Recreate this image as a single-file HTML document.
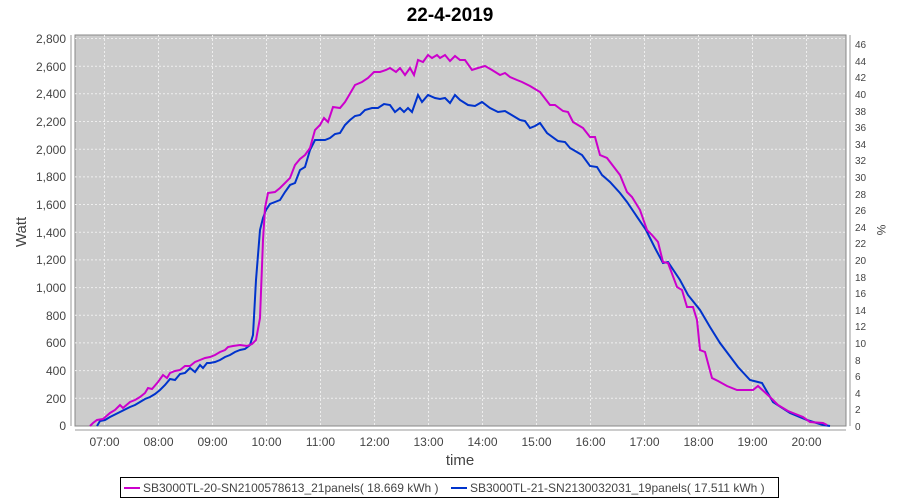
<!DOCTYPE html>
<html><head><meta charset="utf-8"><style>
body{margin:0;background:#fff;}
svg{display:block;font-family:"Liberation Sans","DejaVu Sans",sans-serif;}
</style></head><body>
<svg width="900" height="500" viewBox="0 0 900 500">
<rect width="900" height="500" fill="#fff"/>
<text x="450" y="21" text-anchor="middle" font-size="19" font-weight="bold" fill="#000">22-4-2019</text>
<rect x="75" y="35" width="771" height="391" fill="#cccccc" stroke="#888" stroke-width="1"/>
<g stroke="#eeeeee" stroke-width="1" stroke-dasharray="2,2">
<line x1="75" x2="846" y1="38.5" y2="38.5"/><line x1="75" x2="846" y1="66.2" y2="66.2"/><line x1="75" x2="846" y1="93.8" y2="93.8"/><line x1="75" x2="846" y1="121.5" y2="121.5"/><line x1="75" x2="846" y1="149.2" y2="149.2"/><line x1="75" x2="846" y1="176.9" y2="176.9"/><line x1="75" x2="846" y1="204.5" y2="204.5"/><line x1="75" x2="846" y1="232.2" y2="232.2"/><line x1="75" x2="846" y1="259.9" y2="259.9"/><line x1="75" x2="846" y1="287.6" y2="287.6"/><line x1="75" x2="846" y1="315.2" y2="315.2"/><line x1="75" x2="846" y1="342.9" y2="342.9"/><line x1="75" x2="846" y1="370.6" y2="370.6"/><line x1="75" x2="846" y1="398.3" y2="398.3"/>
<line y1="35" y2="426" x1="104.5" x2="104.5"/><line y1="35" y2="426" x1="158.5" x2="158.5"/><line y1="35" y2="426" x1="212.5" x2="212.5"/><line y1="35" y2="426" x1="266.5" x2="266.5"/><line y1="35" y2="426" x1="320.5" x2="320.5"/><line y1="35" y2="426" x1="374.5" x2="374.5"/><line y1="35" y2="426" x1="428.5" x2="428.5"/><line y1="35" y2="426" x1="482.5" x2="482.5"/><line y1="35" y2="426" x1="536.5" x2="536.5"/><line y1="35" y2="426" x1="590.5" x2="590.5"/><line y1="35" y2="426" x1="644.5" x2="644.5"/><line y1="35" y2="426" x1="698.5" x2="698.5"/><line y1="35" y2="426" x1="752.5" x2="752.5"/><line y1="35" y2="426" x1="806.5" x2="806.5"/>
</g>
<g stroke="#999" stroke-width="1"><line x1="71" x2="71" y1="35" y2="426"/><line x1="75" x2="846" y1="430" y2="430"/><line x1="850" x2="850" y1="35" y2="426"/></g>
<g font-size="12" fill="#444" text-anchor="end">
<text x="66" y="43">2,800</text><text x="66" y="71">2,600</text><text x="66" y="98">2,400</text><text x="66" y="126">2,200</text><text x="66" y="154">2,000</text><text x="66" y="181">1,800</text><text x="66" y="209">1,600</text><text x="66" y="237">1,400</text><text x="66" y="264">1,200</text><text x="66" y="292">1,000</text><text x="66" y="320">800</text><text x="66" y="347">600</text><text x="66" y="375">400</text><text x="66" y="403">200</text><text x="66" y="430">0</text>
</g>
<g font-size="10" fill="#444">
<text x="855" y="430">0</text><text x="855" y="413">2</text><text x="855" y="397">4</text><text x="855" y="380">6</text><text x="855" y="364">8</text><text x="855" y="347">10</text><text x="855" y="330">12</text><text x="855" y="314">14</text><text x="855" y="297">16</text><text x="855" y="281">18</text><text x="855" y="264">20</text><text x="855" y="247">22</text><text x="855" y="231">24</text><text x="855" y="214">26</text><text x="855" y="198">28</text><text x="855" y="181">30</text><text x="855" y="164">32</text><text x="855" y="148">34</text><text x="855" y="131">36</text><text x="855" y="115">38</text><text x="855" y="98">40</text><text x="855" y="81">42</text><text x="855" y="65">44</text><text x="855" y="48">46</text>
</g>
<g font-size="12" fill="#444" text-anchor="middle">
<text x="104.5" y="446">07:00</text><text x="158.5" y="446">08:00</text><text x="212.5" y="446">09:00</text><text x="266.5" y="446">10:00</text><text x="320.5" y="446">11:00</text><text x="374.5" y="446">12:00</text><text x="428.5" y="446">13:00</text><text x="482.5" y="446">14:00</text><text x="536.5" y="446">15:00</text><text x="590.5" y="446">16:00</text><text x="644.5" y="446">17:00</text><text x="698.5" y="446">18:00</text><text x="752.5" y="446">19:00</text><text x="806.5" y="446">20:00</text>
</g>
<text x="460" y="465" text-anchor="middle" font-size="15" fill="#444">time</text>
<text transform="translate(26,232) rotate(-90)" text-anchor="middle" font-size="15" fill="#444">Watt</text>
<text transform="translate(877,230) rotate(90)" text-anchor="middle" font-size="12" fill="#444">%</text>
<polyline fill="none" stroke="#0033cc" stroke-width="2" points="97,426 100,421 105,420 110,417 120,412 130,407 135,405 140,402 145,399 150,397 155,394 160,390 165,385 170,379 175,380 180,374 185,373 190,368 195,372 200,365 203,368 207,363 210,363 215,362 220,360 225,357 230,355 235,352 240,350 245,349 250,345 253,335 256,280 260,230 263,218 266,210 270,204 275,202 280,200 285,192 290,185 295,183 300,170 305,167 310,150 315,140 320,140 325,140 330,138 335,134 340,133 345,125 350,120 355,116 360,115 365,110 372,108 378,108 384,104 390,105 395,112 400,108 404,112 408,108 412,112 418,95 422,102 428,95 435,98 440,99 445,98 450,103 455,95 460,100 468,105 475,106 482,102 490,108 498,112 505,111 510,114 515,117 520,120 525,121 530,128 535,126 540,123 547,133 558,141 565,142 570,148 582,155 590,166 597,167 602,175 610,182 620,193 627,202 646,230 655,248 663,263 668,262 680,280 688,295 700,310 710,327 720,343 738,367 750,380 762,383 773,402 790,413 807,420 823,425 830,426"/>
<polyline fill="none" stroke="#cc00cc" stroke-width="2" points="90,426 93,423 97,420 103,419 110,413 115,410 120,405 123,408 130,402 135,400 140,397 145,393 148,388 152,389 158,382 163,375 167,378 170,373 175,371 180,370 185,366 190,366 195,362 200,360 205,358 210,357 215,355 220,352 225,350 228,347 233,346 240,345 247,346 252,344 256,340 260,318 263,240 265,208 268,193 275,192 280,188 285,183 290,178 295,165 300,159 305,155 310,148 315,130 320,125 324,118 328,122 333,107 340,108 345,102 348,97 355,85 362,82 368,78 374,72 380,72 386,70 390,68 396,72 400,68 405,75 410,68 414,75 418,60 423,62 428,55 432,58 437,55 440,58 445,55 450,61 455,56 460,60 465,60 472,70 478,68 485,66 492,70 500,75 505,73 510,77 517,80 522,82 530,86 540,92 550,105 555,105 563,111 568,112 573,122 583,128 590,137 595,137 600,155 607,158 620,175 627,192 632,197 640,210 647,230 652,235 658,242 663,262 668,263 677,287 682,290 687,307 693,307 697,320 700,350 705,352 712,378 718,381 727,386 737,390 753,390 758,386 770,397 778,405 788,411 793,413 803,417 810,422 823,423 827,425"/>
<rect x="120.5" y="477.5" width="658" height="20" fill="#fff" stroke="#000" stroke-width="1"/>
<line x1="124" x2="140" y1="488" y2="488" stroke="#cc00cc" stroke-width="2"/>
<text x="143" y="492" font-size="12" fill="#444">SB3000TL-20-SN2100578613_21panels( 18.669 kWh )</text>
<line x1="451" x2="467" y1="488" y2="488" stroke="#0033cc" stroke-width="2"/>
<text x="470" y="492" font-size="12" fill="#444">SB3000TL-21-SN2130032031_19panels( 17.511 kWh )</text>
</svg>
</body></html>
